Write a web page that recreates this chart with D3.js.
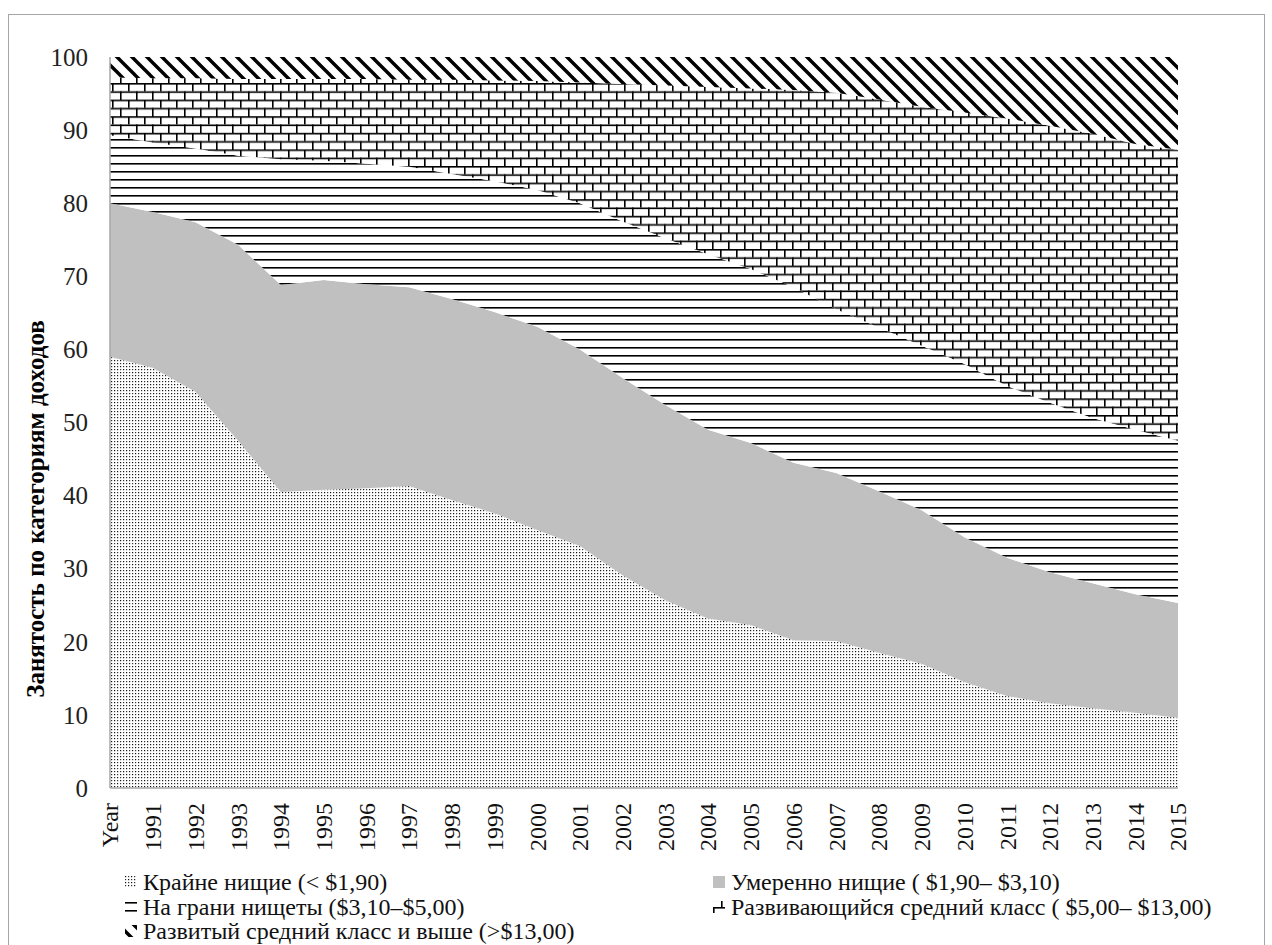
<!DOCTYPE html>
<html>
<head>
<meta charset="utf-8">
<script src="https://cdn.jsdelivr.net/npm/d3@7"></script>
<style>
  body { margin: 0; background: #fff; }
  svg { font-family: "Liberation Serif", "Times New Roman", serif; }
</style>
</head>
<body>
<div id="chart"></div>
<script>
var categories = ["Year", "1991", "1992", "1993", "1994", "1995", "1996", "1997", "1998", "1999", "2000",
    "2001", "2002", "2003", "2004", "2005", "2006", "2007", "2008", "2009", "2010",
    "2011", "2012", "2013", "2014", "2015"];
// доли занятости по категориям, %
var extremePoor = [59, 57.5, 54.2, 47.5, 40.5, 40.8, 41, 41.3, 39.4, 37.6, 35.3, 33.1, 29.1, 25.7, 23.2, 22.3, 20.2, 20.1, 18.5, 17, 14.5, 12.6, 11.6, 10.9, 10.3, 9.6];
var moderatePoor = [21, 21.3, 23.2, 26.8, 28.3, 28.7, 27.9, 27.2, 27.5, 27.5, 27.8, 26.9, 27, 26.7, 25.8, 24.9, 24.3, 23, 22.1, 21, 19.8, 18.9, 17.9, 17.1, 16.2, 15.7];
var nearPoor = [9.3, 9.5, 10.1, 12.2, 17.2, 16.3, 16.5, 16.5, 17.1, 17.9, 18.7, 20, 21.4, 22.8, 24, 23.8, 24, 22.4, 22.4, 22.5, 23.7, 23.5, 23.2, 22.6, 22.5, 22.2];
var developingMiddle = [7.9, 8.8, 9.6, 10.5, 11, 11.2, 11.6, 11.9, 12.9, 13.8, 14.9, 16.5, 18.8, 20.9, 22.9, 24.7, 27, 29.6, 31.2, 32.7, 34.4, 36.6, 37.9, 38.9, 39.1, 39.8];
var developedMiddle = [2.8, 2.9, 2.9, 3, 3, 3, 3, 3.1, 3.1, 3.2, 3.3, 3.5, 3.7, 3.9, 4.1, 4.3, 4.5, 4.9, 5.8, 6.8, 7.6, 8.4, 9.4, 10.5, 11.9, 12.7];
var yTicks = [0, 10, 20, 30, 40, 50, 60, 70, 80, 90, 100];
var seriesNames = ["Крайне нищие (< $1,90)", "Умеренно нищие ( $1,90– $3,10)", "На грани нищеты ($3,10–$5,00)",
    "Развивающийся средний класс ( $5,00– $13,00)", "Развитый средний класс и выше (>$13,00)"];

var width = 1272, height = 945;
var plot = {left: 110, right: 1178, top: 57, bottom: 788};
var keys = ["extreme", "moderate", "near", "developing", "developed"];
var fills = {extreme: "url(#dots)", moderate: "#c0c0c0", near: "url(#hlines)", developing: "url(#brick)", developed: "url(#diag)"};

var rows = categories.map(function (c, i) {
    return {cat: c, extreme: extremePoor[i], moderate: moderatePoor[i], near: nearPoor[i],
        developing: developingMiddle[i], developed: developedMiddle[i]};
});

var svg = d3.select("#chart").append("svg").attr("width", width).attr("height", height);

// patterns
var defs = svg.append("defs");
var p = defs.append("pattern").attr("id", "dots").attr("patternUnits", "userSpaceOnUse").attr("width", 6).attr("height", 6);
p.append("rect").attr("width", 6).attr("height", 6).attr("fill", "#fff");
[[0, 0, "#111"], [3, 0, "#333"], [0, 3, "#333"], [3, 3, "#111"]].forEach(function (d) {
    p.append("rect").attr("x", d[0]).attr("y", d[1]).attr("width", 1.2).attr("height", 1.2).attr("fill", d[2]);
});
p = defs.append("pattern").attr("id", "hlines").attr("patternUnits", "userSpaceOnUse").attr("width", 8).attr("height", 8);
p.append("rect").attr("width", 8).attr("height", 8).attr("fill", "#fff");
p.append("rect").attr("y", 3).attr("width", 8).attr("height", 1.6).attr("fill", "#000");
p = defs.append("pattern").attr("id", "brick").attr("patternUnits", "userSpaceOnUse").attr("width", 16).attr("height", 16.6);
p.append("rect").attr("width", 16).attr("height", 16.6).attr("fill", "#fff");
p.append("rect").attr("y", 0).attr("width", 16).attr("height", 1.6).attr("fill", "#000");
p.append("rect").attr("y", 8.3).attr("width", 16).attr("height", 1.6).attr("fill", "#000");
p.append("rect").attr("x", 0).attr("y", 0).attr("width", 1.6).attr("height", 8.3).attr("fill", "#000");
p.append("rect").attr("x", 8).attr("y", 8.3).attr("width", 1.6).attr("height", 8.3).attr("fill", "#000");
p = defs.append("pattern").attr("id", "diag").attr("patternUnits", "userSpaceOnUse").attr("width", 15).attr("height", 15);
p.append("rect").attr("width", 15).attr("height", 15).attr("fill", "#fff");
p.append("path").attr("d", "M-4,-4 L19,19 M-4,11 L4,19 M11,-4 L19,4").attr("stroke", "#000").attr("stroke-width", 3.4);

// outer frame
svg.append("rect").attr("x", 8.5).attr("y", 14.5).attr("width", 1256).attr("height", 960)
    .attr("fill", "none").attr("stroke", "#a6a6a6");

var x = d3.scalePoint().domain(categories).range([plot.left, plot.right]);
var y = d3.scaleLinear().domain([0, 100]).range([plot.bottom, plot.top]);

var stack = d3.stack().keys(keys);
var series = stack(rows);
var area = d3.area()
    .x(function (d) { return x(d.data.cat); })
    .y0(function (d) { return y(d[0]); })
    .y1(function (d) { return y(d[1]); });

svg.append("g").selectAll("path").data(series).enter().append("path")
    .attr("d", area)
    .attr("fill", function (d) { return fills[d.key]; });

// axes lines
svg.append("line").attr("x1", plot.left).attr("x2", plot.left).attr("y1", plot.top).attr("y2", plot.bottom)
    .attr("stroke", "#a6a6a6").attr("stroke-width", 1.5);
svg.append("line").attr("x1", plot.left).attr("x2", plot.right).attr("y1", plot.bottom).attr("y2", plot.bottom)
    .attr("stroke", "#a6a6a6").attr("stroke-width", 1.5);

// y labels
svg.append("g").selectAll("text").data(yTicks).enter().append("text")
    .attr("x", 88).attr("y", function (d) { return y(d); }).attr("dy", "0.35em")
    .attr("text-anchor", "end").style("font-size", "25px").style("fill", "#222")
    .text(function (d) { return d; });

// x labels
svg.append("g").selectAll("text").data(categories).enter().append("text")
    .attr("transform", function (d) { return "translate(" + x(d) + ",803) rotate(-90)"; })
    .attr("dy", "0.35em").attr("text-anchor", "end").style("font-size", "24px").style("fill", "#111")
    .text(function (d) { return d; });

// y title
svg.append("text").attr("transform", "translate(35,509) rotate(-90)").attr("dy", "0.35em")
    .attr("text-anchor", "middle").style("font-size", "25px").style("font-weight", "bold")
    .text("Занятость по категориям доходов");

// legend
var legendPos = [[125, 882], [713, 882], [125, 907], [713, 907], [125, 931]];
var leg = svg.append("g").selectAll("g").data(keys).enter().append("g")
    .attr("transform", function (d, i) { return "translate(" + legendPos[i][0] + "," + legendPos[i][1] + ")"; });
leg.append("rect").attr("x", 0).attr("y", -6).attr("width", 12).attr("height", 12)
    .attr("fill", function (d) { return fills[d]; });
leg.append("text").attr("x", 18).attr("dy", "0.35em").style("font-size", "24px").style("fill", "#111")
    .text(function (d, i) { return seriesNames[i]; });
</script>
</body>
</html>
